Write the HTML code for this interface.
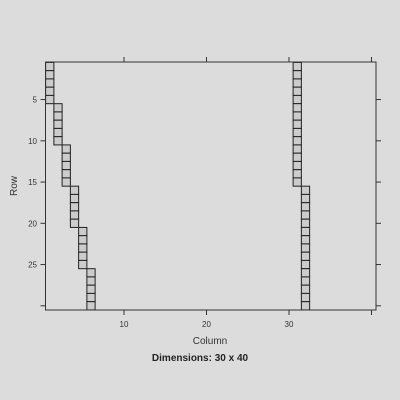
<!DOCTYPE html>
<html><head><meta charset="utf-8"><style>
html,body{margin:0;padding:0;background:#dcdcdc;}
svg{display:block;font-family:"Liberation Sans",Arial,sans-serif;}
</style></head><body>
<svg id="chart" width="400" height="400">
<rect x="0" y="0" width="400" height="400" fill="#dcdcdc"/>
<g id="cells"></g>
<rect x="45.5" y="62" width="330.5" height="248" fill="none" stroke="#333" stroke-width="1"/>
<g id="ticks"></g>
<text x="210" y="344" font-size="10" text-anchor="middle" fill="#333">Column</text>
<text transform="translate(17,186) rotate(-90)" font-size="10" text-anchor="middle" fill="#333">Row</text>
<text x="200" y="361" font-size="10" font-weight="bold" text-anchor="middle" fill="#222">Dimensions: 30 x 40</text>
</svg>
<script>
const nzRows = [1,2,3,4,5,6,7,8,9,10,11,12,13,14,15,16,17,18,19,20,21,22,23,24,25,26,27,28,29,30,
  1,2,3,4,5,6,7,8,9,10,11,12,13,14,15,16,17,18,19,20,21,22,23,24,25,26,27,28,29,30];
const nzCols = [1,1,1,1,1,2,2,2,2,2,3,3,3,3,3,4,4,4,4,4,5,5,5,5,5,6,6,6,6,6,
  31,31,31,31,31,31,31,31,31,31,31,31,31,31,31,32,32,32,32,32,32,32,32,32,32,32,32,32,32,32];
const xTicks = [10,20,30,40];
const xLabels = ["10","20","30",""];
const yTicks = [5,10,15,20,25,30];
const yLabels = ["5","10","15","20","25",""];
const NS="http://www.w3.org/2000/svg";
const X = c => 41.5 + 8.25*c;
const Y = r => 58.3 + 8.25*r;
const cells=document.getElementById('cells');
for(let i=0;i<nzRows.length;i++){
  const r=document.createElementNS(NS,'rect');
  r.setAttribute('x',X(nzCols[i]-0.5));
  r.setAttribute('y',Y(nzRows[i]-0.5));
  r.setAttribute('width',8.25);
  r.setAttribute('height',8.25);
  r.setAttribute('fill','#cccccc');
  r.setAttribute('stroke','#222');
  r.setAttribute('stroke-width','1');
  
  
  cells.appendChild(r);
}
const tk=document.getElementById('ticks');
function line(x1,y1,x2,y2){
  const l=document.createElementNS(NS,'line');
  l.setAttribute('x1',x1);l.setAttribute('y1',y1);l.setAttribute('x2',x2);l.setAttribute('y2',y2);
  l.setAttribute('stroke','#333');
  
  
  tk.appendChild(l);
}
function txt(x,y,s,anchor){
  const t=document.createElementNS(NS,'text');
  t.setAttribute('x',x);t.setAttribute('y',y);t.setAttribute('font-size','8');
  t.setAttribute('text-anchor',anchor);t.setAttribute('fill','#333');
  t.textContent=s;
  
  
  tk.appendChild(t);
}
xTicks.forEach((v,i)=>{
  line(X(v),310,X(v),315);
  line(X(v),62,X(v),57);
  if(xLabels[i]) txt(X(v),327,xLabels[i],'middle');
});
yTicks.forEach((v,i)=>{
  line(45.5,Y(v),40.5,Y(v));
  line(376,Y(v),381,Y(v));
  if(yLabels[i]) txt(37,Y(v)+3,yLabels[i],'end');
});
</script>
</body></html>
